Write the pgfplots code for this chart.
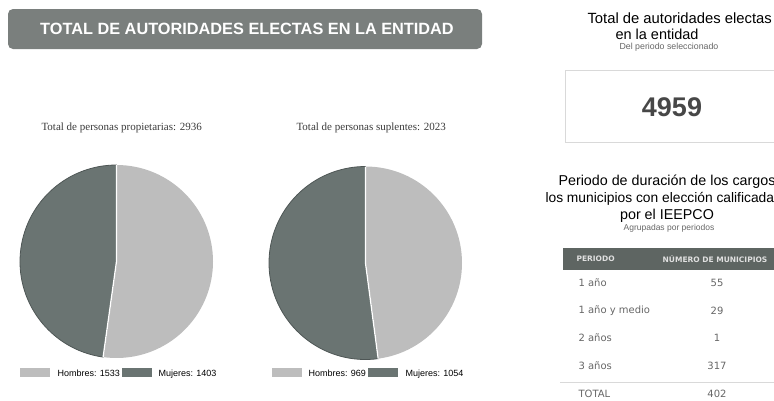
\documentclass[border=0pt]{standalone}
\usepackage{fontspec}
\setmainfont{Liberation Sans}
\newfontfamily\serifa{Liberation Serif}
\newfontfamily\tabfont{DejaVu Sans}
\usepackage{pgfplots}
\pgfplotsset{compat=1.18}

\definecolor{hombres}{HTML}{BDBDBD}
\definecolor{mujeres}{HTML}{6A7472}
\definecolor{mujeresedge}{HTML}{4E5655}
\definecolor{banner}{HTML}{7A7F7D}
\definecolor{thead}{HTML}{5E6562}
\definecolor{txt}{HTML}{3A3A3A}
\definecolor{soft}{HTML}{666666}

% propietarias: Hombres 1533, Mujeres 1403 ; suplentes: Hombres 969, Mujeres 1054
\pgfmathsetmacro\angL{90-360*(1533/(1533+1403))}
\pgfmathsetmacro\angR{90-360*(969/(969+1054))}

\begin{document}
\begin{tikzpicture}
\begin{axis}[
  width=774pt, height=400pt, scale only axis,
  xmin=0, xmax=774, ymin=0, ymax=400, y dir=reverse,
  axis lines=none, xtick=\empty, ytick=\empty,
  clip=false,
  every node/.style={inner sep=0pt, text=txt},
]
  \coordinate (BL) at (axis cs:0,400);
  \coordinate (TR) at (axis cs:774,0);

  % banner
  \fill[banner, rounded corners=5pt] (axis cs:8,9) rectangle (axis cs:482,49);
  \node[text=white, font=\fontsize{16.3}{18}\selectfont\bfseries] at (axis cs:247,29)
    {TOTAL DE AUTORIDADES ELECTAS EN LA ENTIDAD};

  % pie titles
  \node[anchor=west, font=\serifa\fontsize{11}{13}\selectfont, text=txt] at (axis cs:38,128)
    {Total de personas propietarias: 2936};
  \node[anchor=west, font=\serifa\fontsize{11}{13}\selectfont, text=txt] at (axis cs:293,128)
    {Total de personas suplentes: 2023};

  % left pie
  \fill[hombres] (axis cs:116.5,261.5) -- ++(90:96.5pt)
    arc[start angle=90, end angle=\angL, radius=96.5pt] -- cycle;
  \filldraw[fill=mujeres, draw=mujeresedge, line width=0.8pt] (axis cs:116.5,261.5) -- ++(\angL:96.5pt)
    arc[start angle=\angL, end angle=-270, radius=96.5pt] -- cycle;
  \draw[white, line width=1.3pt] (axis cs:116.5,165) -- (axis cs:116.5,261.5) -- ++(\angL:96.5pt);

  % right pie
  \fill[hombres] (axis cs:365.5,263) -- ++(90:96.5pt)
    arc[start angle=90, end angle=\angR, radius=96.5pt] -- cycle;
  \filldraw[fill=mujeres, draw=mujeresedge, line width=0.8pt] (axis cs:365.5,263) -- ++(\angR:96.5pt)
    arc[start angle=\angR, end angle=-270, radius=96.5pt] -- cycle;
  \draw[white, line width=1.3pt] (axis cs:365.5,166.5) -- (axis cs:365.5,263) -- ++(\angR:96.5pt);

  % legends
  \fill[hombres] (axis cs:20,368) rectangle (axis cs:50,377);
  \node[anchor=base west, font=\fontsize{9}{10}\selectfont] at (axis cs:54,376) {Hombres: 1533};
  \fill[mujeres] (axis cs:122,368) rectangle (axis cs:152,377);
  \node[anchor=base west, font=\fontsize{9}{10}\selectfont] at (axis cs:155,376) {Mujeres: 1403};
  \fill[hombres] (axis cs:272,368) rectangle (axis cs:302,377);
  \node[anchor=base west, font=\fontsize{9}{10}\selectfont] at (axis cs:305,376) {Hombres: 969};
  \fill[mujeres] (axis cs:368,368) rectangle (axis cs:398,377);
  \node[anchor=base west, font=\fontsize{9}{10}\selectfont] at (axis cs:402,376) {Mujeres: 1054};

  % total panel
  \node[anchor=west, font=\fontsize{14.8}{16}\selectfont] at (axis cs:584,18) {Total de autoridades electas};
  \node[anchor=west, font=\fontsize{14.5}{16}\selectfont] at (axis cs:612,34) {en la entidad};
  \node[font=\fontsize{8.8}{10}\selectfont, text=soft] at (axis cs:669,47) {Del periodo seleccionado};
  \draw[black!15, line width=0.8pt] (axis cs:565,70) rectangle (axis cs:790,142);
  \node[font=\fontsize{27}{30}\selectfont\bfseries, text=black!72] at (axis cs:672,107) {4959};

  % periods
  \node[anchor=west, font=\fontsize{14.3}{16}\selectfont] at (axis cs:555,182) {Periodo de duración de los cargos};
  \node[anchor=west, font=\fontsize{13.8}{16}\selectfont] at (axis cs:542,199) {los municipios con elección calificada};
  \node[font=\fontsize{14.3}{16}\selectfont] at (axis cs:667,216) {por el IEEPCO};
  \node[font=\fontsize{8.5}{10}\selectfont, text=soft] at (axis cs:669,228) {Agrupadas por periodos};

  % table
  \fill[thead] (axis cs:563,248) rectangle (axis cs:790,270);
  \node[anchor=west, font=\tabfont\fontsize{7.5}{9}\selectfont\bfseries, text=white!88!black] at (axis cs:573,259) {PERIODO};
  \node[font=\tabfont\fontsize{7.5}{9}\selectfont\bfseries, text=white!88!black] at (axis cs:715,259) {NÚMERO DE MUNICIPIOS};
  \node[anchor=west, font=\tabfont\fontsize{10}{12}\selectfont, text=soft] at (axis cs:575,283) {1 año};
  \node[font=\tabfont\fontsize{10}{12}\selectfont, text=soft] at (axis cs:717,283) {55};
  \node[anchor=west, font=\tabfont\fontsize{10}{12}\selectfont, text=soft] at (axis cs:575,311) {1 año y medio};
  \node[font=\tabfont\fontsize{10}{12}\selectfont, text=soft] at (axis cs:717,311) {29};
  \node[anchor=west, font=\tabfont\fontsize{10}{12}\selectfont, text=soft] at (axis cs:575,338) {2 años};
  \node[font=\tabfont\fontsize{10}{12}\selectfont, text=soft] at (axis cs:717,338) {1};
  \node[anchor=west, font=\tabfont\fontsize{10}{12}\selectfont, text=soft] at (axis cs:575,366) {3 años};
  \node[font=\tabfont\fontsize{10}{12}\selectfont, text=soft] at (axis cs:717,366) {317};
  \draw[black!15, line width=0.6pt] (axis cs:560,382) -- (axis cs:790,382);
  \node[anchor=west, font=\tabfont\fontsize{10}{12}\selectfont, text=soft] at (axis cs:575,393.5) {TOTAL};
  \node[font=\tabfont\fontsize{10}{12}\selectfont, text=soft] at (axis cs:717,393.5) {402};
\end{axis}
\pgfresetboundingbox
\useasboundingbox (BL) rectangle (TR);
\end{tikzpicture}
\end{document}
